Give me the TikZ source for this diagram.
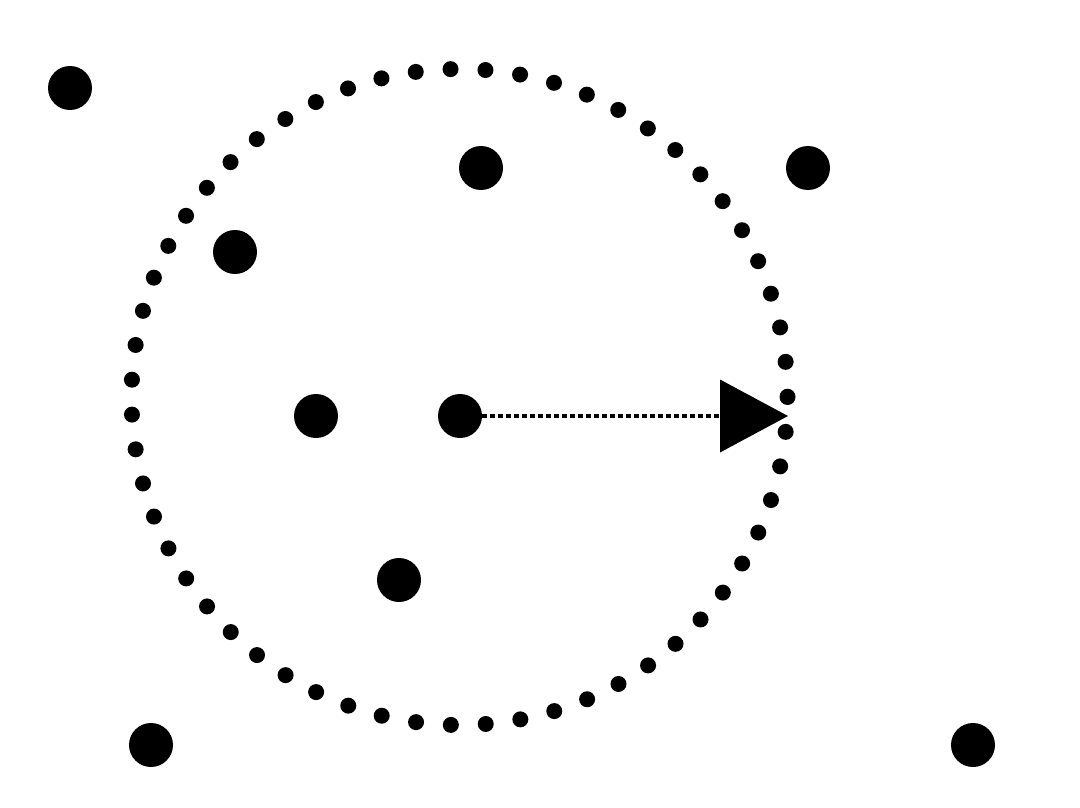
\documentclass[tikz,border=0pt]{standalone}
\usetikzlibrary{arrows.meta}
\begin{document}
\begin{tikzpicture}[x=1pt,y=-1pt,
  pt/.style={circle,fill=black,inner sep=0pt,minimum size=44pt},
  ring/.style={line width=16pt,line cap=round,dash pattern=on 0pt off {2*pi*328/59}},
  radius arrow/.style={line width=4pt,dash pattern=on 5pt off 3pt,
    -{Triangle[length=68pt,width=72pt]}}]
\useasboundingbox[fill=white] (0,0) rectangle (1080,808);
\coordinate (c) at (459.5,397);
\draw[ring] (c) circle[radius=328];
\node[pt] (p1) at (70,88) {};
\node[pt] (p2) at (481,168) {};
\node[pt] (p3) at (808,168) {};
\node[pt] (p4) at (235,252) {};
\node[pt] (p5) at (316,416) {};
\node[pt] (p6) at (460,416) {};
\node[pt] (p7) at (399,580) {};
\node[pt] (p8) at (151,745) {};
\node[pt] (p9) at (973,745) {};
\coordinate (tip) at (788,416);
\draw[radius arrow] (p6.east) -- (tip);
\end{tikzpicture}
\end{document}
